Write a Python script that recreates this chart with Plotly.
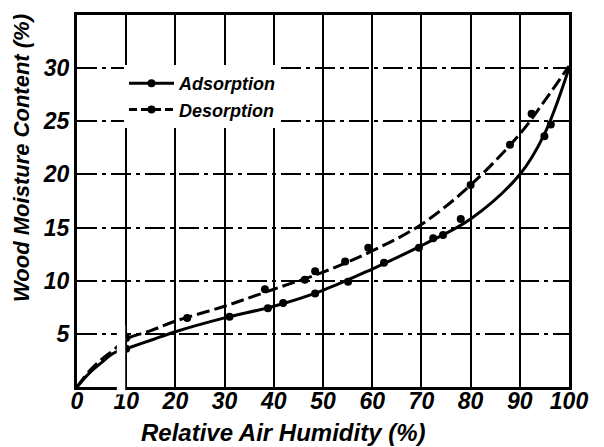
import plotly.graph_objects as go

# ---- data ----
curve_x = [0, 2.5, 5, 7.5, 10, 15, 20, 30, 40, 50, 60, 70, 80, 90, 95, 100]
adsorption_curve = [0, 1.3, 2.3, 3.2, 3.6, 4.4, 5.2, 6.5, 7.6, 9.1, 11.1, 13.3, 15.8, 20.0, 23.8, 30.0]
desorption_curve = [0, 1.5, 2.6, 3.5, 4.5, 5.3, 6.2, 7.6, 9.2, 10.8, 12.8, 15.3, 19.0, 23.8, 26.9, 30.2]

ads_pts_x = [10, 31, 38.8, 41.9, 48.4, 55.1, 62.4, 69.5, 72.4, 74.4, 78, 95, 96.3]
ads_pts_y = [3.6, 6.6, 7.4, 7.9, 8.8, 9.9, 11.7, 13.1, 14.0, 14.3, 15.8, 23.6, 24.7]
des_pts_x = [10, 22.4, 38.2, 46.3, 48.4, 54.5, 59.2, 80, 88, 92.4]
des_pts_y = [4.6, 6.5, 9.2, 10.1, 10.9, 11.8, 13.1, 19.0, 22.8, 25.7]

x_ticks = [0, 10, 20, 30, 40, 50, 60, 70, 80, 90, 100]
y_ticks = [5, 10, 15, 20, 25, 30]

FONT = "Liberation Sans, Arial, sans-serif"
BLACK = "#000000"

fig = go.Figure()
fig.add_trace(go.Scatter(x=curve_x, y=adsorption_curve, mode="lines",
                         line=dict(color=BLACK, width=3, shape="spline"),
                         showlegend=False, hoverinfo="skip"))
fig.add_trace(go.Scatter(x=curve_x, y=desorption_curve, mode="lines",
                         line=dict(color=BLACK, width=3, shape="spline", dash="13px,5px"),
                         showlegend=False, hoverinfo="skip"))
fig.add_trace(go.Scatter(x=ads_pts_x, y=ads_pts_y, mode="markers", marker=dict(color=BLACK, size=8),
                         showlegend=False))
fig.add_trace(go.Scatter(x=des_pts_x, y=des_pts_y, mode="markers", marker=dict(color=BLACK, size=8),
                         showlegend=False))
# legend entries
fig.add_trace(go.Scatter(x=[None], y=[None], mode="lines+markers", name="Adsorption",
                         line=dict(color=BLACK, width=3), marker=dict(color=BLACK, size=8)))
fig.add_trace(go.Scatter(x=[None], y=[None], mode="lines+markers", name="Desorption",
                         line=dict(color=BLACK, width=3, dash="8px,4px"), marker=dict(color=BLACK, size=8)))

# page body has an 8px margin, so figure coordinates = reference pixels - OFF
OFF = 8
W, H = 604, 447
px_left, px_right, px_top, px_bottom = 77 - OFF, 569 - OFF, 15 - OFF, 387 - OFF
L, R, T, B = px_left, W - px_right, px_top, H - px_bottom
pw = W - L - R
ph = H - T - B


def fx(px):
    return (px - OFF - L) / pw


def fy(py):
    return (H - B - (py - OFF)) / ph


tickfont = dict(size=23, family=FONT, weight="bold", style="italic", color=BLACK)

fig.update_layout(
    width=W, height=H,
    margin=dict(l=L, r=R, t=T, b=B, autoexpand=False),
    paper_bgcolor="white", plot_bgcolor="white",
    font=dict(family=FONT, color=BLACK),
    xaxis=dict(range=[0, 100], tickvals=x_ticks, tickfont=tickfont, ticks="", ticklen=0,
               ticklabelstandoff=-9,
               showgrid=True, gridcolor=BLACK, gridwidth=2,
               showline=True, linecolor=BLACK, linewidth=3, mirror=True, zeroline=False),
    yaxis=dict(range=[0, 35], tickvals=y_ticks, tickfont=tickfont, ticks="", ticklen=0,
               showgrid=True, gridcolor=BLACK, gridwidth=2, griddash="20px,5px,4px,5px",
               showline=True, linecolor=BLACK, linewidth=3, mirror=True, zeroline=False),
    legend=dict(x=fx(124), y=fy(65), xanchor="left", yanchor="top",
                bgcolor="white", borderwidth=0, itemwidth=45, tracegroupgap=0,
                font=dict(size=18, family=FONT, weight="bold", style="italic", color=BLACK)),
    showlegend=True,
)

fig.add_annotation(text="Relative Air Humidity (%)", xref="paper", yref="paper",
                   x=fx(283), y=fy(432), showarrow=False,
                   xanchor="center", yanchor="middle",
                   font=dict(size=24, family=FONT, weight="bold", style="italic", color=BLACK))
fig.add_annotation(text="Wood Moisture Content (%)", xref="paper", yref="paper",
                   x=fx(21), y=fy(158), showarrow=False, textangle=-90,
                   xanchor="center", yanchor="middle",
                   font=dict(size=22, family=FONT, weight="bold", style="italic", color=BLACK))

# white scan strip that interrupts the lower left corner
fig.add_shape(type="rect", xref="x", yref="paper", x0=8.1, x1=9.8, y0=-0.02, y1=5.8 / 35,
              fillcolor="white", line=dict(width=0), layer="above")

fig.write_html("out.html")
